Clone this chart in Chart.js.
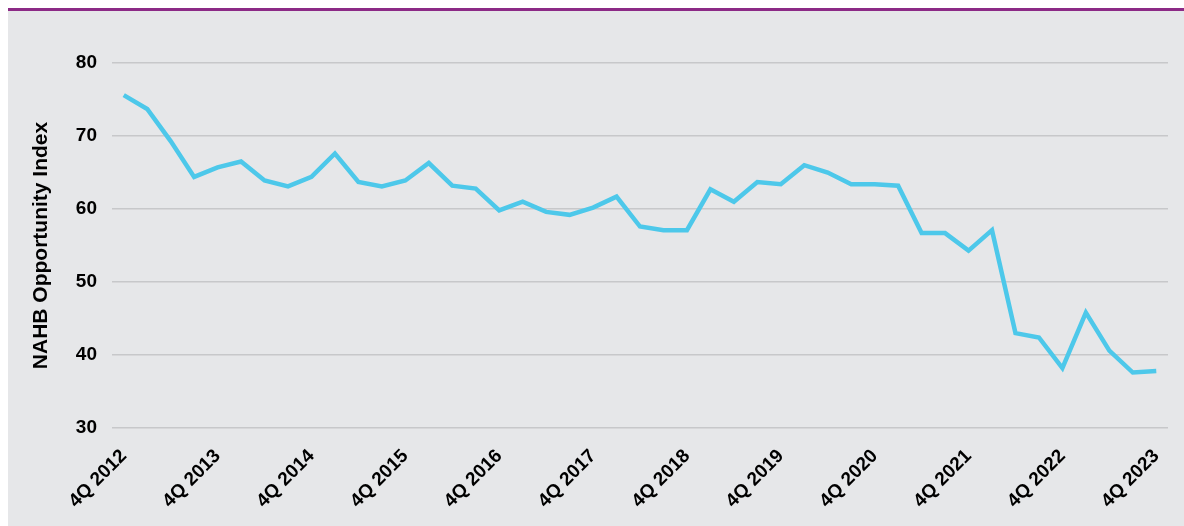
<!DOCTYPE html>
<html>
<head>
<meta charset="utf-8">
<script src="https://cdn.jsdelivr.net/npm/chart.js@4"></script>
<style>
  html, body { margin: 0; padding: 0; background: #ffffff; }
  #wrap { position: relative; width: 1184px; height: 526px; overflow: hidden; }
  #topline { position: absolute; left: 8px; top: 8px; right: 0; height: 3px; background: #8c2a86; }
  #panel { position: absolute; left: 8px; top: 11px; right: 0; bottom: 0; background: #e6e7e9; }
  #chart { position: absolute; left: 0; top: 0; }
</style>
</head>
<body>
<div id="wrap">
  <div id="topline"></div>
  <div id="panel"></div>
  <canvas id="chart" width="1184" height="526"></canvas>
</div>
<script>
/* =========================
   DATA
========================= */
const quarters = [
  '4Q 2012',
  '1Q 2013', '2Q 2013', '3Q 2013', '4Q 2013',
  '1Q 2014', '2Q 2014', '3Q 2014', '4Q 2014',
  '1Q 2015', '2Q 2015', '3Q 2015', '4Q 2015',
  '1Q 2016', '2Q 2016', '3Q 2016', '4Q 2016',
  '1Q 2017', '2Q 2017', '3Q 2017', '4Q 2017',
  '1Q 2018', '2Q 2018', '3Q 2018', '4Q 2018',
  '1Q 2019', '2Q 2019', '3Q 2019', '4Q 2019',
  '1Q 2020', '2Q 2020', '3Q 2020', '4Q 2020',
  '1Q 2021', '2Q 2021', '3Q 2021', '4Q 2021',
  '1Q 2022', '2Q 2022', '3Q 2022', '4Q 2022',
  '1Q 2023', '2Q 2023', '3Q 2023', '4Q 2023'
];

const opportunityIndex = [
  75.6,
  73.7, 69.3, 64.4, 65.7,
  66.5, 63.9, 63.1, 64.4,
  67.6, 63.7, 63.1, 63.9,
  66.3, 63.2, 62.8, 59.8,
  61.0, 59.6, 59.2, 60.2,
  61.7, 57.6, 57.1, 57.1,
  62.7, 61.0, 63.7, 63.4,
  66.0, 65.0, 63.4, 63.4,
  63.2, 56.7, 56.7, 54.3,
  57.1, 43.0, 42.4, 38.2,
  45.8, 40.6, 37.6, 37.8
];

const yTicks = [30, 40, 50, 60, 70, 80];
const yTitle = 'NAHB Opportunity Index';

/* =========================
   CHART
========================= */
const ctx = document.getElementById('chart').getContext('2d');

new Chart(ctx, {
  type: 'line',
  data: {
    labels: quarters,
    datasets: [{
      label: yTitle,
      data: opportunityIndex,
      borderColor: '#4dc8ea',
      borderWidth: 4.5,
      pointRadius: 0,
      tension: 0,
      fill: false
    }]
  },
  options: {
    responsive: false,
    animation: false,
    layout: { padding: { top: 63, right: 16, left: 0, bottom: 0 } },
    plugins: {
      legend: { display: false },
      tooltip: { enabled: false }
    },
    scales: {
      x: {
        offset: true,
        grid: { display: false, drawTicks: false },
        border: { display: false },
        afterFit(scale) {
          scale.height = 98;
          // keep the plot area fixed, labels may overflow sideways
          scale.paddingLeft = 0;
          scale.paddingRight = 0;
        },
        ticks: {
          autoSkip: false,
          minRotation: 45,
          maxRotation: 45,
          padding: 17,
          color: '#000000',
          font: { family: 'Liberation Sans, Arial, sans-serif', size: 19, weight: 'bold' },
          // only the fourth quarters get a label
          callback(value, index) {
            const lab = quarters[index];
            return lab.startsWith('4Q') ? lab : '';
          }
        }
      },
      y: {
        min: yTicks[0],
        max: yTicks[yTicks.length - 1],
        afterFit(scale) { scale.width = 112; },
        afterBuildTicks(scale) { scale.ticks = yTicks.map(v => ({ value: v })); },
        grid: { color: '#c7c8ca', lineWidth: 1.5, drawTicks: false },
        border: { display: false },
        ticks: {
          padding: 15,
          color: '#000000',
          font: { family: 'Liberation Sans, Arial, sans-serif', size: 19, weight: 'bold' }
        },
        title: {
          display: true,
          text: yTitle,
          color: '#000000',
          padding: { top: 29, bottom: 0 },
          font: { family: 'Liberation Sans, Arial, sans-serif', size: 21, weight: 'bold' }
        }
      }
    }
  }
});
</script>
</body>
</html>
